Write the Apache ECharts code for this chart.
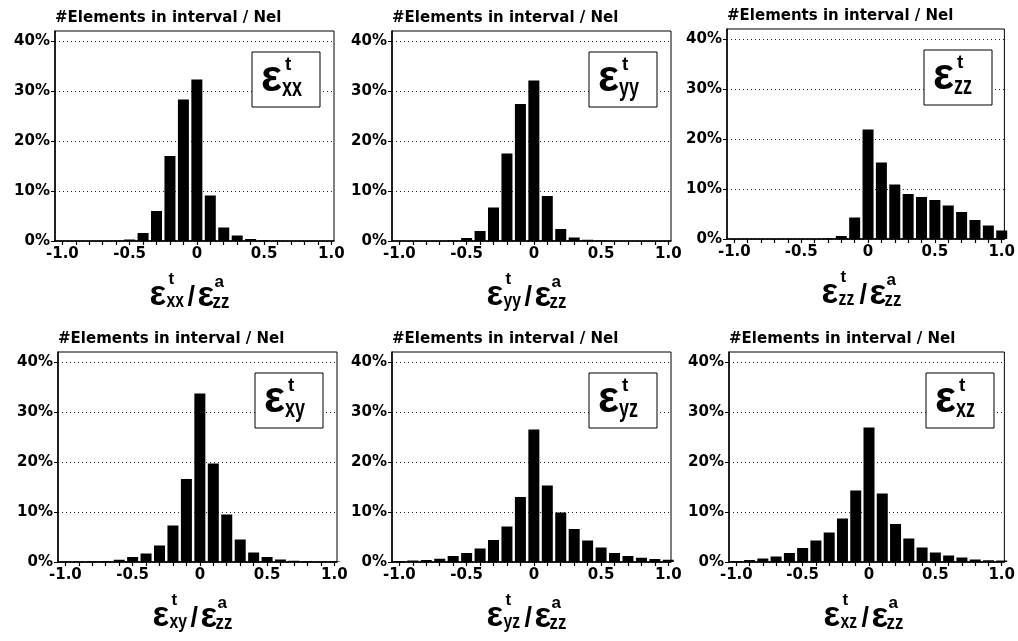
<!DOCTYPE html>
<html>
<head>
<meta charset="utf-8">
<script src="https://cdn.jsdelivr.net/npm/echarts@6/dist/echarts.min.js"></script>
<style>
  html, body { margin: 0; background: #fff; }
  #chart { width: 1018px; height: 641px; }
</style>
</head>
<body>
<div id="chart"></div>
<script>
// bin centres (interval width 0.1)
const bins = [-1.0, -0.9, -0.8, -0.7, -0.6, -0.5, -0.4, -0.3, -0.2, -0.1, 0,
  0.1, 0.2, 0.3, 0.4, 0.5, 0.6, 0.7, 0.8, 0.9, 1.0]
// % of elements in each interval
const epsXX = [0, 0, 0, 0, 0.05, 0.3, 1.6, 6.0, 17.0, 28.3, 32.3, 9.1, 2.7, 1.1, 0.4, 0.15, 0.05, 0, 0, 0, 0]
const epsYY = [0, 0, 0, 0, 0.1, 0.6, 2.0, 6.7, 17.5, 27.4, 32.1, 9.0, 2.4, 0.7, 0.25, 0.1, 0, 0, 0, 0, 0]
const epsZZ = [0, 0, 0, 0, 0, 0, 0, 0.1, 0.6, 4.3, 21.9, 15.3, 10.9, 9.0, 8.4, 7.8, 6.7, 5.4, 3.8, 2.7, 1.7]
const epsXY = [0.1, 0.1, 0.15, 0.2, 0.45, 1.0, 1.7, 3.3, 7.3, 16.6, 33.7, 19.7, 9.5, 4.5, 1.9, 1.0, 0.5, 0.25, 0.15, 0.1, 0.1]
const epsYZ = [0.2, 0.3, 0.4, 0.65, 1.2, 1.8, 2.7, 4.4, 7.1, 13.0, 26.5, 15.3, 9.9, 6.6, 4.3, 2.9, 1.8, 1.2, 0.85, 0.6, 0.45]
const epsXZ = [0.2, 0.4, 0.7, 1.1, 1.8, 2.8, 4.3, 5.9, 8.7, 14.3, 26.9, 13.7, 7.6, 4.7, 2.9, 1.9, 1.3, 0.9, 0.5, 0.35, 0.3]
const components = ['xx', 'yy', 'zz', 'xy', 'yz', 'xz']
const xLabels = [-1.0, -0.5, 0, 0.5, 1.0]
const yLabels = [0, 10, 20, 30, 40]
const panelTitle = '#Elements in interval / Nel'

const seriesData = [epsXX, epsYY, epsZZ, epsXY, epsYZ, epsXZ]

// panel layout (px)
const lefts = [55, 392, 727, 58, 392, 729]
const tops = [31, 31, 29, 352, 352, 352]
const W = 279
const H = 210

const FONT = 'DejaVu Sans'
const GREEK = 'Liberation Sans'

// bold text piece, optional horizontal squeeze (for the narrow subscripts)
function txt (x, y, text, size, sx) {
  return {
    type: 'text',
    x: x,
    y: y,
    z: 100,
    scaleX: sx || 1,
    style: {
      text: text,
      fontSize: size,
      fontFamily: GREEK,
      fontWeight: 'bold',
      fill: '#000',
      align: 'left',
      verticalAlign: 'middle'
    }
  }
}

const grid = []
const xAxis = []
const yAxis = []
const series = []
const graphic = []

components.forEach((c, i) => {
  const L = lefts[i]
  const T = tops[i]
  grid.push({
    left: L, top: T, width: W, height: H,
    show: true, borderColor: '#000', borderWidth: 1
  })
  xAxis.push({
    type: 'value',
    gridIndex: i,
    min: -1.055,
    max: 1.02,
    axisLine: { onZero: false, lineStyle: { color: '#000', width: 1.5 } },
    axisTick: { show: true, customValues: bins, length: 4, lineStyle: { color: '#000', width: 1.2 } },
    axisLabel: {
      customValues: xLabels,
      color: '#000',
      fontFamily: FONT,
      fontWeight: 'bold',
      fontSize: 15,
      margin: 6,
      formatter: v => (Math.abs(v) < 1e-9 ? '0' : v.toFixed(1))
    },
    splitLine: { show: false }
  })
  yAxis.push({
    type: 'value',
    gridIndex: i,
    min: 0,
    max: 42,
    interval: 10,
    axisLine: { show: true, onZero: false, lineStyle: { color: '#000', width: 1.5 } },
    axisTick: { show: true, customValues: yLabels, length: 4, lineStyle: { color: '#000' } },
    axisLabel: {
      customValues: yLabels,
      color: '#000',
      fontFamily: FONT,
      fontWeight: 'bold',
      fontSize: 15,
      margin: 5,
      formatter: v => v + '%'
    },
    splitLine: { show: true, lineStyle: { color: '#222', type: [1, 3], width: 1 } }
  })
  series.push({
    type: 'bar',
    xAxisIndex: i,
    yAxisIndex: i,
    barWidth: 11,
    itemStyle: { color: '#000' },
    data: bins.map((b, k) => [b, seriesData[i][k]])
  })

  // header text
  graphic.push({
    type: 'text', x: L, y: T - 13, z: 100,
    style: { text: panelTitle, fontSize: 15, fontFamily: FONT, fontWeight: 'bold', fill: '#000', align: 'left', verticalAlign: 'middle' }
  })

  // boxed component label
  const bx = L + W - 14 - 68
  const by = T + 21
  graphic.push({
    type: 'rect', z: 90,
    shape: { x: bx, y: by, width: 68, height: 55 },
    style: { fill: '#fff', stroke: '#000', lineWidth: 1 }
  })
  graphic.push(txt(bx + 9, by + 27, '\u03b5', 44))
  graphic.push(txt(bx + 33, by + 13, 't', 19))
  graphic.push(txt(bx + 30, by + 37, c, 25, 0.72))

  // x axis title  eps^t_c / eps^a_zz
  const cx = L + W / 2
  const yb = T + H
  graphic.push(txt(cx - 45, yb + 54, '\u03b5', 35))
  graphic.push(txt(cx - 26, yb + 38, 't', 17))
  graphic.push(txt(cx - 28, yb + 60, c, 21, 0.75))
  graphic.push(txt(cx - 7, yb + 57, '/', 27))
  graphic.push(txt(cx + 3, yb + 55, '\u03b5', 35))
  graphic.push(txt(cx + 20, yb + 41, 'a', 17))
  graphic.push(txt(cx + 18, yb + 61, 'zz', 21, 0.8))
})

const chart = echarts.init(document.getElementById('chart'))
chart.setOption({
  animation: false,
  backgroundColor: '#fff',
  grid: grid,
  xAxis: xAxis,
  yAxis: yAxis,
  series: series,
  graphic: graphic
})
</script>
</body>
</html>
